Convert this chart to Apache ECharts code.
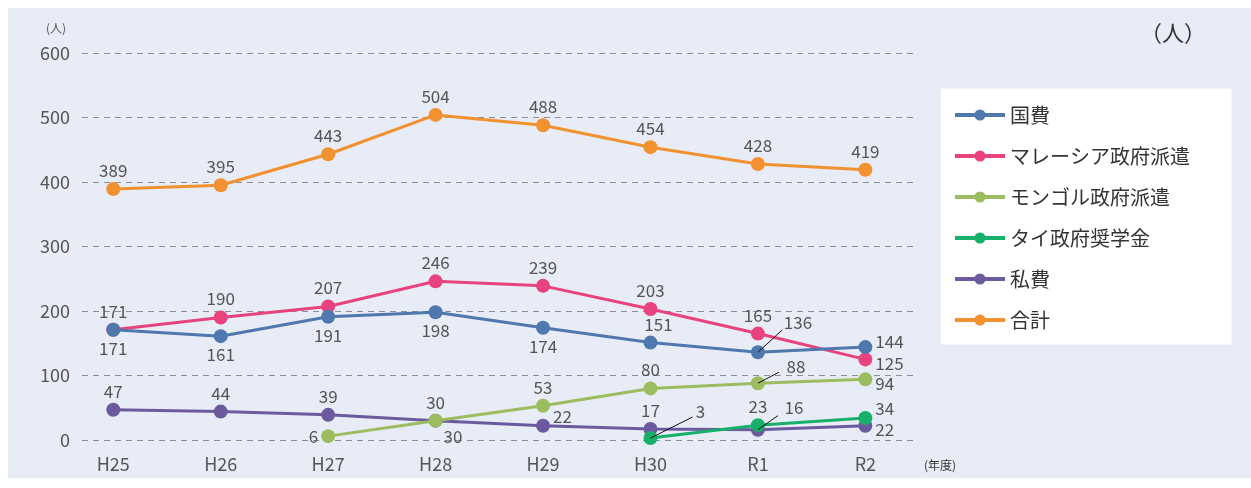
<!DOCTYPE html>
<html><head><meta charset="utf-8">
<script src="https://cdn.jsdelivr.net/npm/echarts@6/dist/echarts.min.js"></script>
<style>html,body{margin:0;padding:0;background:#fff;}#c{width:1251px;height:488px;}</style>
</head><body><div id="c"></div>
<script>
const categories = ['H25','H26','H27','H28','H29','H30','R1','R2'];
const kokuhi   = [171,161,191,198,174,151,136,144];
const malaysia = [171,190,207,246,239,203,165,125];
const mongol   = [null,null,6,30,53,80,88,94];
const thai     = [null,null,null,null,null,3,23,34];
const shihi    = [47,44,39,30,22,17,16,22];
const total    = [389,395,443,504,488,454,428,419];
const yTicks   = [0,100,200,300,400,500,600];
const seriesNames = ['国費','マレーシア政府派遣','モンゴル政府派遣','タイ政府奨学金','私費','合計'];

// label style per point: [position, offsetX, offsetY, leaderEndX, leaderEndY]
const labelStyle = {
  '国費': {0:['bottom'],1:['bottom'],2:['bottom'],3:['bottom'],4:['bottom'],5:['top',8,0],6:['lead',40,-30,24,-22],7:['right',0,-6]},
  'マレーシア政府派遣': {7:['right',0,4]},
  'モンゴル政府派遣': {2:['left'],6:['lead',38,-17,21,-11],7:['right',0,4]},
  'タイ政府奨学金': {5:['lead',50,-27,42,-21],7:['right',0,-10]},
  '私費': {3:['right',-2,16],4:['right',0,-9],6:['lead',36,-22,20,-14],7:['right',0,4]},
  '合計': {}
};
const colors = ['#4f78ae','#e8437f','#9cbd5f','#17b06a','#6b5b9e','#f29130'];
const dataArrays = [kokuhi, malaysia, mongol, thai, shihi, total];

const FONT = '"Noto Sans CJK JP", "Noto Sans", sans-serif';

function buildData(name, arr){
  const st = labelStyle[name] || {};
  return arr.map((v,i)=>{
    if (v===null) return [i, null];
    const s = st[i];
    const item = {value:[i,v]};
    if (s){
      if (s[0]==='lead'){
        item.label = {position:'inside', offset:[s[1], s[2]]};
      } else {
        item.label = {position:s[0], offset:[s[1]||0, s[2]||0]};
      }
    }
    return item;
  });
}

const series = seriesNames.map((name,k)=>({
  name, type:'line', data: buildData(name, dataArrays[k]),
  color: colors[k],
  symbol:'circle', symbolSize:14,
  lineStyle:{width:3},
  connectNulls:false,
  label:{show:true, position:'top', fontSize:17, color:'#555', fontFamily:FONT, distance:3},
  z: 10-k
}));

const chart = echarts.init(document.getElementById('c'));
const baseGraphic = [
  {type:'rect', shape:{x:8,y:8,width:1243,height:470}, style:{fill:'#e7ecf6'}, z:-10, silent:true},
  {type:'rect', shape:{x:940,y:88,width:292,height:257}, style:{fill:'#ffffff', stroke:'#e3e8f0', lineWidth:1}, z:-5, silent:true},
  {type:'text', left:1140, top:22, style:{text:'（人）', fontSize:22, fill:'#333', fontFamily:FONT}},
  {type:'text', left:46, top:22, style:{text:'(人)', fontSize:12, fill:'#555', fontFamily:FONT}},
  {type:'text', left:924, top:459, style:{text:'(年度)', fontSize:12, fill:'#333', fontFamily:FONT}}
];
chart.setOption({
  backgroundColor:'#fff',
  animation:false,
  graphic:baseGraphic,
  grid:{left:82, right:333, top:53, bottom:48},
  xAxis:{
    type:'value', min:-0.291, max:7.49,
    axisLine:{show:false}, axisTick:{show:false}, splitLine:{show:false},
    axisLabel:{customValues:categories.map((c,i)=>i), formatter:v=>categories[Math.round(v)],
      fontSize:18, color:'#555', fontFamily:FONT, margin:15}
  },
  yAxis:{
    type:'value', min:yTicks[0], max:yTicks[yTicks.length-1], interval:100,
    axisLine:{show:false}, axisTick:{show:false},
    splitLine:{show:true, lineStyle:{type:[6,5], color:'#8a8f99', width:1}},
    axisLabel:{fontSize:18, color:'#555', fontFamily:FONT, margin:12}
  },
  legend:{
    orient:'vertical', left:948, top:100, itemWidth:50, itemHeight:14, itemGap:21,
    data:seriesNames,
    lineStyle:{width:4},
    textStyle:{fontSize:20, color:'#333', fontFamily:FONT}
  },
  series
});

// leader lines from each point to its moved label, positioned through the chart's scales
const leaders = [];
seriesNames.forEach((name,k)=>{
  const st = labelStyle[name] || {};
  Object.keys(st).forEach(i=>{
    const s = st[i];
    if (s[0]!=='lead') return;
    const p = chart.convertToPixel({gridIndex:0}, [Number(i), dataArrays[k][i]]);
    leaders.push({type:'line', shape:{x1:p[0], y1:p[1], x2:p[0]+s[3], y2:p[1]+s[4]},
      style:{stroke:'#111', lineWidth:1}, z:100, silent:true});
  });
});
chart.setOption({graphic: baseGraphic.concat(leaders)});
</script></body></html>
